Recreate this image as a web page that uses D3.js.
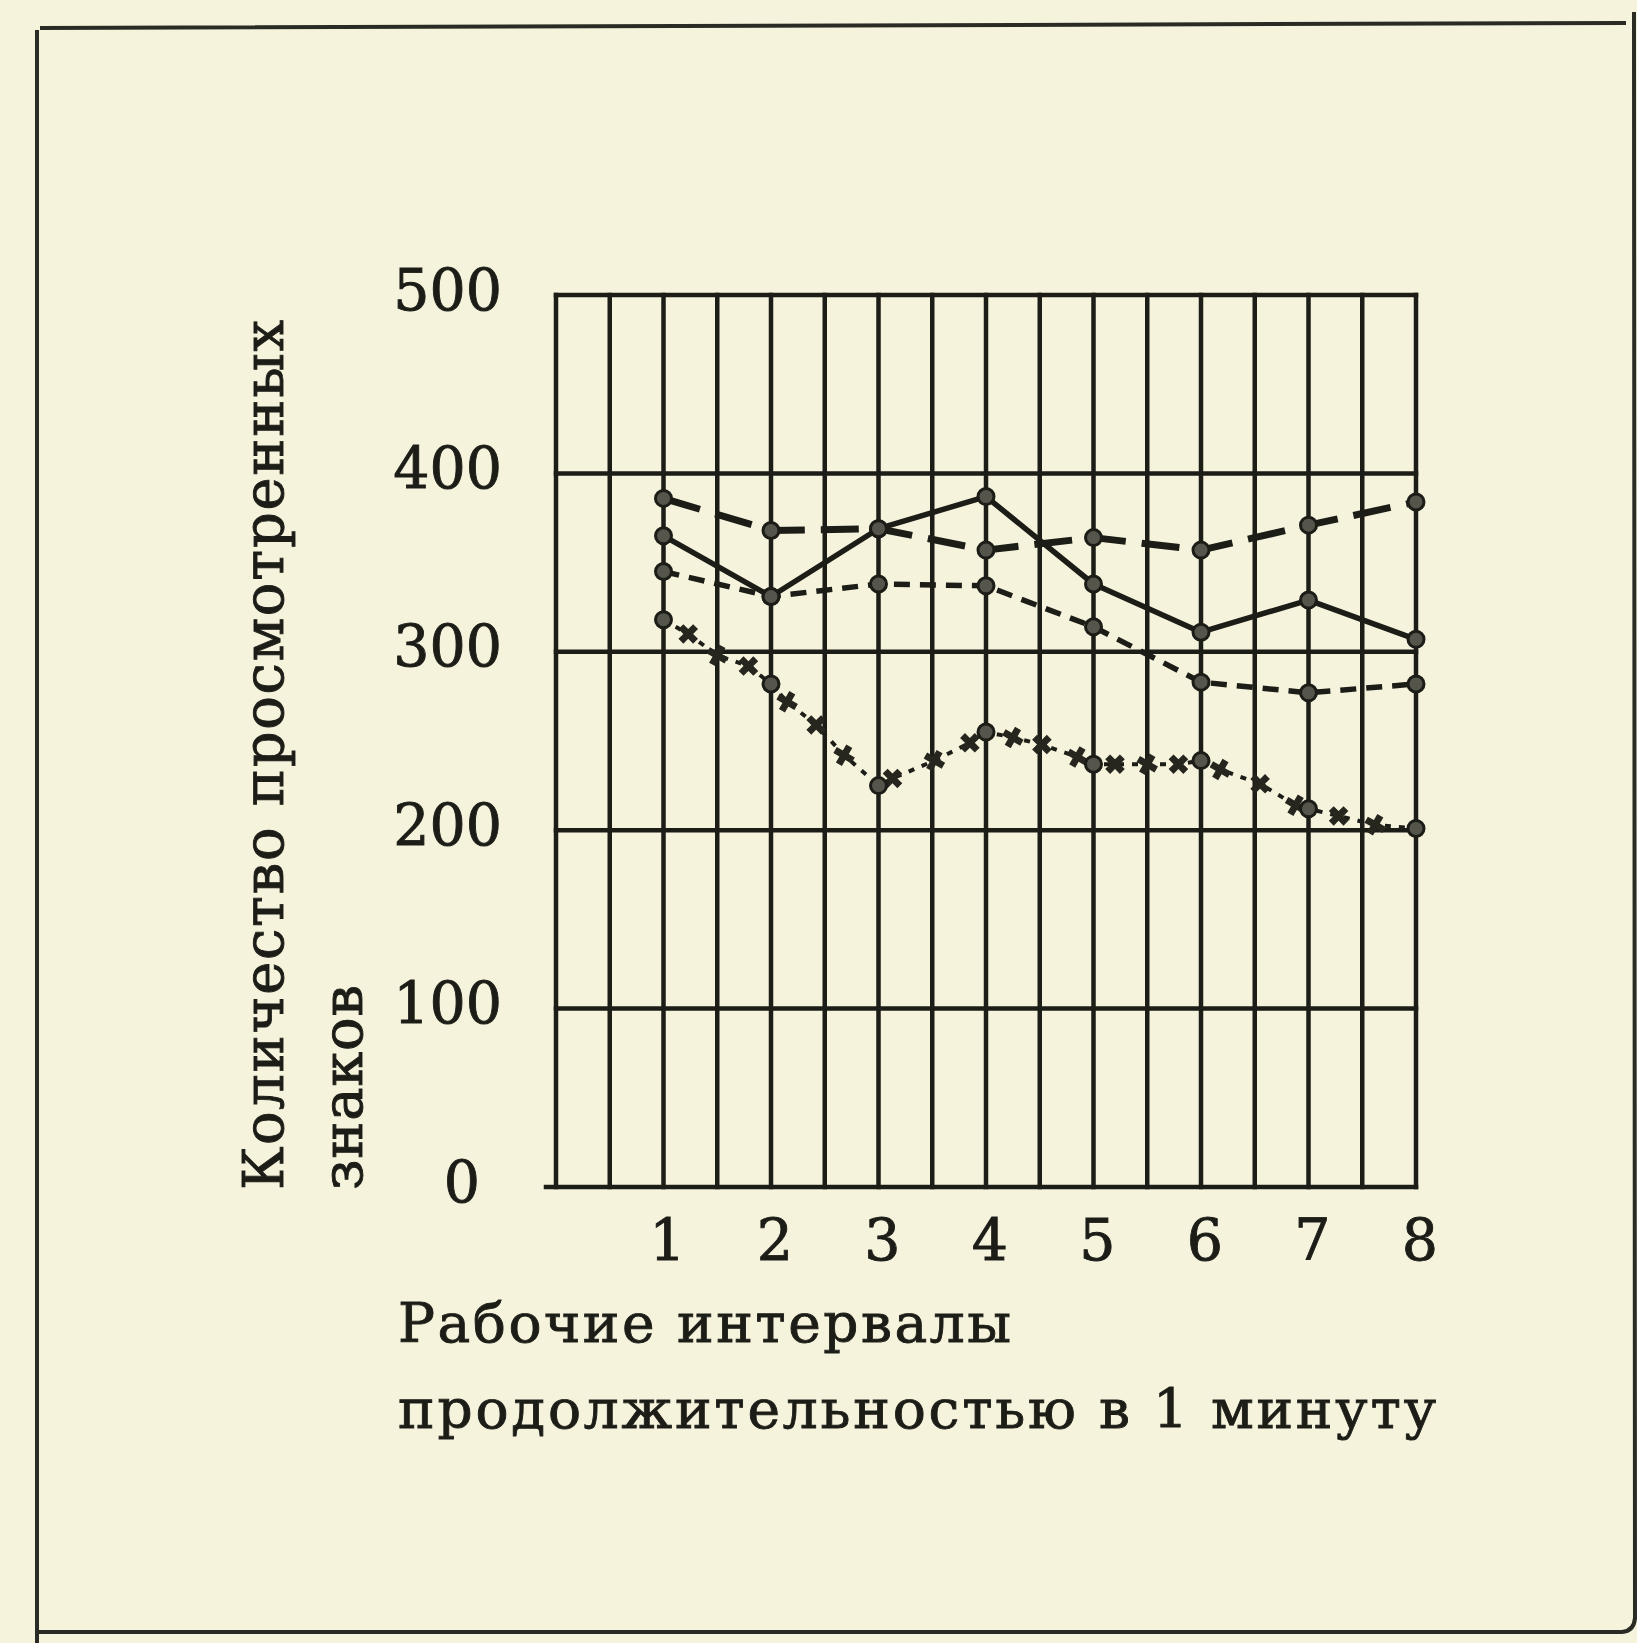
<!DOCTYPE html>
<html>
<head>
    <meta charset="utf-8">
    <style>
        body { margin: 0; background: #f6f3dd; }
        svg { display: block; }
        text { font-family: "DejaVu Serif", "Liberation Serif", serif; fill: #1d1d18; stroke: #1d1d18; stroke-width: 0.9px; }
        .grid { stroke: #1d1d18; stroke-width: 4.5px; fill: none; stroke-linecap: square; }
        .series { fill: none; stroke: #1d1d18; stroke-linejoin: round; }
        .dot { fill: #55554c; stroke: #1d1d18; stroke-width: 3px; }
        .cross { fill: #26261f; }
    </style>
    <script src="https://d3js.org/d3.v7.min.js"></script>
</head>
<body>
    <div id="chart"></div>

    <script>
        // working intervals (1 minute each)
        var intervals = [1, 2, 3, 4, 5, 6, 7, 8];
        var yTicks = [0, 100, 200, 300, 400, 500];

        // number of signs viewed, four curves
        var longDash  = [386, 368, 369, 357, 364, 357, 371, 384];
        var solid     = [365, 331, 369, 387, 338, 311, 329, 307];
        var shortDash = [345, 331, 338, 337, 314, 283, 277, 282];
        var crossLine = [318, 282, 225, 255, 237, 239, 212, 201];

        // intermediate cross marks on the lowest curve
        var crossX = [1.23, 1.5, 1.79, 2.15, 2.42, 2.68, 3.13, 3.52, 3.85, 4.25, 4.52, 4.85, 5.2, 5.5, 5.79, 6.18, 6.55, 6.88, 7.28, 7.62];
        var crossV = [310, 298, 292, 272, 259, 242, 229, 239, 249, 252, 248, 241, 237, 237, 237, 234, 226, 214, 208, 203];

        var width = 1637, height = 1643;

        var svg = d3.select("#chart")
                    .append("svg")
                    .attr("width", width)
                    .attr("height", height);

        // page frame
        svg.append("path")
            .attr("d", "M37,1643 L37,30 M40,28 L1626,23 M37,1632 L1622,1632 Q1634,1631 1635,1618 L1634,12")
            .attr("fill", "none")
            .attr("stroke", "#2b2b25")
            .attr("stroke-width", 4);

        var x = d3.scaleLinear().domain([0, 8]).range([556, 1416]);
        var y = d3.scaleLinear().domain([0, 500]).range([1187, 295]);

        // vertical grid every half interval
        var g = svg.append("g");
        g.selectAll(".vline")
            .data(d3.range(0, 8.01, 0.5))
            .enter()
            .append("line")
            .attr("class", "grid")
            .attr("x1", function(d) { return x(d); })
            .attr("x2", function(d) { return x(d); })
            .attr("y1", y(500))
            .attr("y2", y(0));

        g.selectAll(".hline")
            .data(yTicks)
            .enter()
            .append("line")
            .attr("class", "grid")
            .attr("x1", function(d) { return d === 0 ? x(0) - 10 : x(0); })
            .attr("x2", x(8))
            .attr("y1", function(d) { return y(d); })
            .attr("y2", function(d) { return y(d); });

        // tick labels
        svg.selectAll(".ylab")
            .data(yTicks)
            .enter()
            .append("text")
            .attr("x", function(d) { return d === 0 ? 480 : 502; })
            .attr("y", function(d) { return y(d) - 6; })
            .attr("dy", "0.36em")
            .attr("text-anchor", "end")
            .attr("font-size", 57)
            .text(function(d) { return d; });

        svg.selectAll(".xlab")
            .data(intervals)
            .enter()
            .append("text")
            .attr("x", function(d) { return x(d) + 4; })
            .attr("y", 1260)
            .attr("text-anchor", "middle")
            .attr("font-size", 57)
            .text(function(d) { return d; });

        // axis titles
        svg.append("text")
            .attr("x", 398).attr("y", 1342)
            .attr("font-size", 55)
            .attr("textLength", 613)
            .attr("lengthAdjust", "spacing")
            .text("Рабочие интервалы");
        svg.append("text")
            .attr("x", 398).attr("y", 1428)
            .attr("font-size", 55)
            .attr("textLength", 1038)
            .attr("lengthAdjust", "spacing")
            .text("продолжительностью в 1 минуту");

        svg.append("text")
            .attr("transform", "translate(283,1190) rotate(-90)")
            .attr("font-size", 56)
            .attr("textLength", 870)
            .attr("lengthAdjust", "spacing")
            .text("Количество просмотренных");
        svg.append("text")
            .attr("transform", "translate(362,1190) rotate(-90)")
            .attr("font-size", 56)
            .attr("textLength", 205)
            .attr("lengthAdjust", "spacing")
            .text("знаков");

        // curves
        var line = d3.line()
            .x(function(d) { return x(d.x); })
            .y(function(d) { return y(d.v); });

        function pts(vals) {
            return intervals.map(function(t, i) { return { x: t, v: vals[i] }; });
        }

        var crossPts = crossX.map(function(t, i) { return { x: t, v: crossV[i] }; });
        var lowPts = pts(crossLine).concat(crossPts).sort(function(a, b) { return a.x - b.x; });

        var curves = [
            { pts: pts(longDash),  dash: "38,16", w: 7 },
            { pts: pts(solid),     dash: null,    w: 5.5 },
            { pts: pts(shortDash), dash: "16,10", w: 5.5 },
            { pts: lowPts,         dash: "6,8",   w: 4 }
        ];

        svg.selectAll(".series")
            .data(curves)
            .enter()
            .append("path")
            .attr("class", "series")
            .attr("d", function(d) { return line(d.pts); })
            .attr("stroke-width", function(d) { return d.w; })
            .attr("stroke-dasharray", function(d) { return d.dash; });

        // cross marks
        svg.selectAll(".cross")
            .data(crossPts)
            .enter()
            .append("path")
            .attr("class", "cross")
            .attr("d", d3.symbol().type(d3.symbolCross).size(240))
            .attr("transform", function(d, i) {
                return "translate(" + x(d.x) + "," + y(d.v) + ") rotate(" + (i % 2 ? 30 : 45) + ")";
            });

        // point markers
        [longDash, solid, shortDash, crossLine].forEach(function(vals) {
            svg.append("g").selectAll("circle")
                .data(pts(vals))
                .enter()
                .append("circle")
                .attr("class", "dot")
                .attr("cx", function(d) { return x(d.x); })
                .attr("cy", function(d) { return y(d.v); })
                .attr("r", 8);
        });
    </script>
</body>
</html>
